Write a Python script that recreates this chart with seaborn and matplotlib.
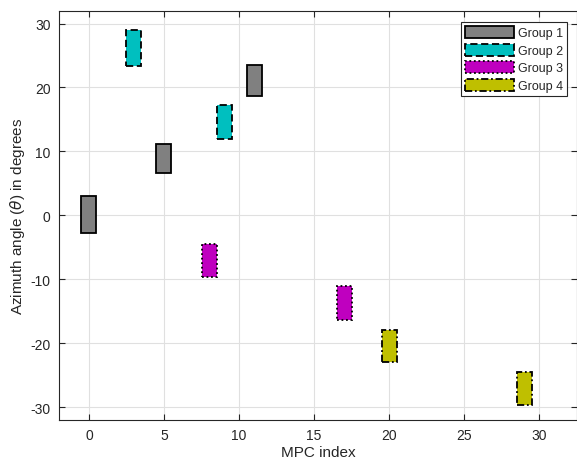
import numpy as np
import pandas as pd
import matplotlib
matplotlib.use("Agg")
import matplotlib.pyplot as plt
import seaborn as sns

# MPC index, angle ranges (lower/upper) per group
groups = ["Group 1", "Group 2", "Group 3", "Group 4"]
group1_idx = [0, 5, 11]
group1_low = [-2.8, 6.7, 18.7]
group1_high = [3.0, 11.2, 23.5]
group2_idx = [3, 9]
group2_low = [23.4, 12.0]
group2_high = [29.0, 17.2]
group3_idx = [8, 17]
group3_low = [-9.6, -16.3]
group3_high = [-4.5, -11.0]
group4_idx = [20, 29]
group4_low = [-23.0, -29.6]
group4_high = [-18.0, -24.5]

x_ticks = [0, 5, 10, 15, 20, 25, 30]
y_ticks = [-30, -20, -10, 0, 10, 20, 30]

rows = []
for g, idx, lo, hi in zip(groups,
                          [group1_idx, group2_idx, group3_idx, group4_idx],
                          [group1_low, group2_low, group3_low, group4_low],
                          [group1_high, group2_high, group3_high, group4_high]):
    for i, l, h in zip(idx, lo, hi):
        rows.append({"group": g, "mpc": i, "low": l, "high": h})
df = pd.DataFrame(rows)

styles = {
    "Group 1": ((0.5, 0.5, 0.5), "-"),
    "Group 2": ((0.0, 0.75, 0.75), (0, (4, 2))),
    "Group 3": ((0.75, 0.0, 0.75), (0, (1, 1.5))),
    "Group 4": ((0.75, 0.75, 0.0), (0, (4, 1.5, 1, 1.5))),
}

sns.set_theme(style="ticks")
plt.rcParams["font.family"] = ["Liberation Sans", "DejaVu Sans"]
plt.rcParams["axes.unicode_minus"] = False

fig = plt.figure(figsize=(5.77, 4.64), dpi=100)
ax = fig.add_axes([0.102, 0.0927, 0.898, 0.882])

for g in groups:
    sub = df[df["group"] == g]
    col, ls = styles[g]
    ax.bar(sub["mpc"], sub["high"] - sub["low"], bottom=sub["low"], width=1.0,
           color=col, edgecolor="black", linewidth=1.3, linestyle=ls,
           label=g, zorder=3)

ax.set_xlim(-2, 32.5)
ax.set_ylim(-32, 32)
ax.set_xticks(x_ticks)
ax.set_yticks(y_ticks)
ax.grid(True, color="#e0e0e0", linewidth=0.8, zorder=0)
ax.tick_params(direction="in", top=True, right=True, length=4, width=0.8,
               labelsize=10, colors="#262626", pad=6)
for s in ax.spines.values():
    s.set_color("#262626")
    s.set_linewidth(0.8)

ax.set_xlabel("MPC index", fontsize=11, color="#262626", labelpad=2)
ax.set_ylabel(r"Azimuth angle ($\theta$) in degrees", fontsize=11,
              color="#262626", labelpad=2)

leg = ax.legend(loc="upper right", bbox_to_anchor=(0.982, 0.950),
                bbox_transform=fig.transFigure, borderaxespad=0,
                fontsize=9, handlelength=3.9, handleheight=1.1,
                handletextpad=0.3, labelspacing=0.35, borderpad=0.3,
                fancybox=False, framealpha=1)
leg.get_frame().set_edgecolor("#262626")
leg.get_frame().set_linewidth(0.8)

fig.savefig("out.png", dpi=100)
